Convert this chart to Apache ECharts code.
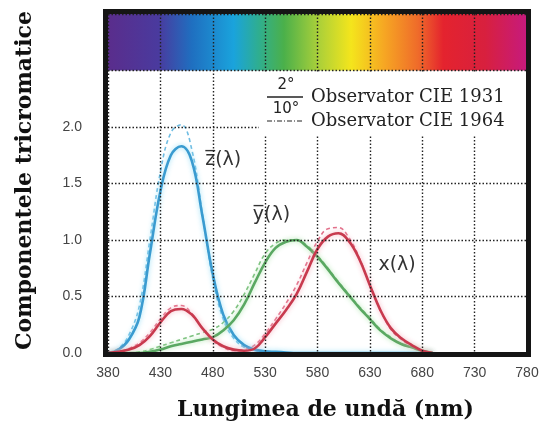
<!DOCTYPE html>
<html>
<head>
<meta charset="utf-8">
<title>Componentele tricromatice</title>
<script src="https://cdn.jsdelivr.net/npm/echarts@6/dist/echarts.min.js"></script>
<style>
    html, body { margin: 0; padding: 0; background: #fff; }
    #chart { width: 554px; height: 433px; }
</style>
</head>
<body>
<div id="chart"></div>
<script>
// lungimi de unda (nm), pas de 10
var wavelengths = [380, 390, 400, 410, 420, 430, 440, 450, 460, 470,
    480, 490, 500, 510, 520, 530, 540, 550, 560, 570,
    580, 590, 600, 610, 620, 630, 640, 650, 660, 670, 680, 690]

// observator 2 grade (1931) - linii continue
var zBar1931 = [0, 0.03, 0.12, 0.32, 0.88, 1.43, 1.75, 1.83, 1.70, 1.22,
    0.70, 0.34, 0.16, 0.07, 0.03, 0.015, 0.01, 0.005, 0, 0,
    0, 0, 0, 0, 0, 0, 0, 0, 0, 0, 0, 0]
var yBar1931 = [0, 0, 0, 0, 0.01, 0.03, 0.06, 0.08, 0.10, 0.12,
    0.14, 0.20, 0.29, 0.43, 0.62, 0.80, 0.93, 0.985, 1.0, 0.94,
    0.85, 0.74, 0.62, 0.51, 0.40, 0.30, 0.20, 0.13, 0.08, 0.05, 0.02, 0]
var xBar1931 = [0, 0.01, 0.03, 0.07, 0.15, 0.27, 0.37, 0.39, 0.34, 0.22,
    0.12, 0.06, 0.03, 0.02, 0.04, 0.14, 0.26, 0.38, 0.52, 0.72,
    0.92, 1.03, 1.06, 0.99, 0.83, 0.60, 0.38, 0.22, 0.13, 0.07, 0.02, 0]

// observator 10 grade (1964) - linii intrerupte
var zBar1964 = [0, 0.04, 0.16, 0.42, 1.0, 1.6, 1.95, 2.02, 1.80, 1.24,
    0.66, 0.30, 0.13, 0.05, 0.02, 0.01, 0.005, 0, 0, 0,
    0, 0, 0, 0, 0, 0, 0, 0, 0, 0, 0, 0]
var yBar1964 = [0, 0, 0, 0.01, 0.03, 0.06, 0.09, 0.12, 0.15, 0.18,
    0.21, 0.27, 0.37, 0.52, 0.70, 0.88, 0.97, 1.0, 1.0, 0.95,
    0.86, 0.75, 0.63, 0.52, 0.41, 0.31, 0.21, 0.14, 0.08, 0.05, 0.02, 0]
var xBar1964 = [0, 0.01, 0.04, 0.09, 0.18, 0.30, 0.40, 0.42, 0.35, 0.22,
    0.11, 0.05, 0.02, 0.03, 0.07, 0.17, 0.30, 0.44, 0.60, 0.80,
    0.99, 1.10, 1.11, 1.02, 0.84, 0.60, 0.38, 0.21, 0.12, 0.06, 0.02, 0]

var xTickLabels = ['380', '430', '480', '530', '580', '630', '680', '730', '780']
var yTickLabels = ['0.0', '0.5', '1.0', '1.5', '2.0']

// etichetele curbelor: [text, lungime de unda, valoare]
var curveLabels = [
    ['z\u0305(\u03bb)', 490, 1.71],
    ['y\u0305(\u03bb)', 536, 1.22],
    ['x(\u03bb)', 656, 0.78]
]

function pairs(values) {
    return wavelengths.map(function (w, i) { return [w, values[i]] })
}

function curve(name, values, color, dashed, halo) {
    return {
        name: name,
        type: 'line',
        data: pairs(values),
        smooth: 0.4,
        symbol: 'none',
        silent: true,
        z: dashed ? 3 : 4,
        lineStyle: {
            color: color,
            width: dashed ? 1.6 : 2.6,
            type: dashed ? [4, 3] : 'solid',
            shadowColor: halo,
            shadowBlur: dashed ? 0 : 5
        }
    }
}

var chart = echarts.init(document.getElementById('chart'))

var spectrum = new echarts.graphic.LinearGradient(0, 0, 1, 0, [
    { offset: 0, color: '#5a2d8c' },
    { offset: 0.12, color: '#4a3a9e' },
    { offset: 0.2, color: '#1f6fc0' },
    { offset: 0.3, color: '#1aa3dc' },
    { offset: 0.36, color: '#2fae8f' },
    { offset: 0.42, color: '#4bb04a' },
    { offset: 0.5, color: '#a8cf3a' },
    { offset: 0.58, color: '#f4e51c' },
    { offset: 0.66, color: '#f6a623' },
    { offset: 0.74, color: '#ef6b2a' },
    { offset: 0.8, color: '#e4232e' },
    { offset: 0.9, color: '#d8203e' },
    { offset: 1, color: '#c61a7e' }
])

var series = [
    curve('z 1964', zBar1964, '#6fbde3', true),
    curve('y 1964', yBar1964, '#7cc07e', true),
    curve('x 1964', xBar1964, '#e2708a', true),
    curve('z 1931', zBar1931, '#3a9bd0', false, 'rgba(140,220,245,0.9)'),
    curve('y 1931', yBar1931, '#5aa862', false, 'rgba(170,230,170,0.9)'),
    curve('x 1931', xBar1931, '#c83a4e', false, 'rgba(245,170,185,0.9)')
]

// banda spectrului deasupra graficului
series[0].markArea = {
    silent: true,
    itemStyle: { color: spectrum },
    data: [[{ xAxis: 380, yAxis: 2.5 }, { xAxis: 780, yAxis: 3 }]]
}

// etichetele curbelor
series[3].markPoint = {
    silent: true,
    symbol: 'circle',
    symbolSize: 0,
    label: {
        show: true,
        position: 'inside',
        color: '#333',
        fontFamily: 'DejaVu Sans',
        fontSize: 19,
        formatter: function (p) { return p.name }
    },
    data: curveLabels.map(function (l) { return { name: l[0], coord: [l[1], l[2]] } })
}

var option = {
    backgroundColor: '#fff',
    animation: false,
    grid: { left: 108, right: 27, top: 14, bottom: 80 },
    xAxis: {
        type: 'value',
        min: 380,
        max: 780,
        interval: 50,
        z: 10,
        name: 'Lungimea de und\u0103 (nm)',
        nameLocation: 'middle',
        nameGap: 46,
        nameTextStyle: {
            fontFamily: 'DejaVu Serif',
            fontWeight: 'bold',
            fontSize: 22,
            color: '#111',
            padding: [0, 0, 0, 16]
        },
        axisLine: { show: false },
        axisTick: { show: false },
        axisLabel: {
            margin: 13,
            color: '#444',
            fontFamily: 'Liberation Sans',
            fontSize: 14,
            formatter: function (v) {
                var s = String(v)
                return xTickLabels.indexOf(s) >= 0 ? s : ''
            }
        },
        splitLine: { show: true, lineStyle: { color: '#222', width: 1.4, type: [1.5, 2] } }
    },
    yAxis: {
        type: 'value',
        min: 0,
        max: 3,
        interval: 0.5,
        z: 10,
        name: 'Componentele tricromatice',
        nameLocation: 'middle',
        nameGap: 72,
        nameTextStyle: {
            fontFamily: 'DejaVu Serif',
            fontWeight: 'bold',
            fontSize: 22,
            color: '#111',
            padding: [0, 0, 0, 6]
        },
        axisLine: { show: false },
        axisTick: { show: false },
        axisLabel: {
            margin: 26,
            color: '#444',
            fontFamily: 'Liberation Sans',
            fontSize: 14,
            formatter: function (v) {
                var s = v.toFixed(1)
                return yTickLabels.indexOf(s) >= 0 ? s : ''
            }
        },
        splitLine: { show: true, lineStyle: { color: '#222', width: 1.4, type: [1.5, 2] } }
    },
    series: series,
    graphic: [
        { // fundal alb sub legenda
            type: 'rect',
            z: 100,
            shape: { x: 259, y: 73, width: 267, height: 63 },
            style: { fill: '#fff' }
        },
        { // rama neagra
            type: 'rect',
            z: 110,
            shape: { x: 105.5, y: 11.5, width: 423, height: 343 },
            style: { fill: null, stroke: '#151515', lineWidth: 5 }
        },
        {
            type: 'text', z: 105, x: 286, y: 85,
            style: { text: '2\u00b0', fill: '#222', font: '15px "DejaVu Sans"', align: 'center', verticalAlign: 'middle' }
        },
        {
            type: 'line', z: 105,
            shape: { x1: 267, y1: 97, x2: 303, y2: 97 },
            style: { stroke: '#222', lineWidth: 1.5 }
        },
        {
            type: 'text', z: 105, x: 286, y: 109,
            style: { text: '10\u00b0', fill: '#222', font: '15px "DejaVu Sans"', align: 'center', verticalAlign: 'middle' }
        },
        {
            type: 'line', z: 105,
            shape: { x1: 267, y1: 121, x2: 303, y2: 121 },
            style: { stroke: '#222', lineWidth: 1.2, lineDash: [5, 2, 1, 2] }
        },
        {
            type: 'text', z: 105, x: 311, y: 97,
            style: { text: 'Observator CIE 1931', fill: '#222', font: '18px "DejaVu Serif"', verticalAlign: 'middle' }
        },
        {
            type: 'text', z: 105, x: 311, y: 121,
            style: { text: 'Observator CIE 1964', fill: '#222', font: '18px "DejaVu Serif"', verticalAlign: 'middle' }
        }
    ]
}

chart.setOption(option)
</script>
</body>
</html>
